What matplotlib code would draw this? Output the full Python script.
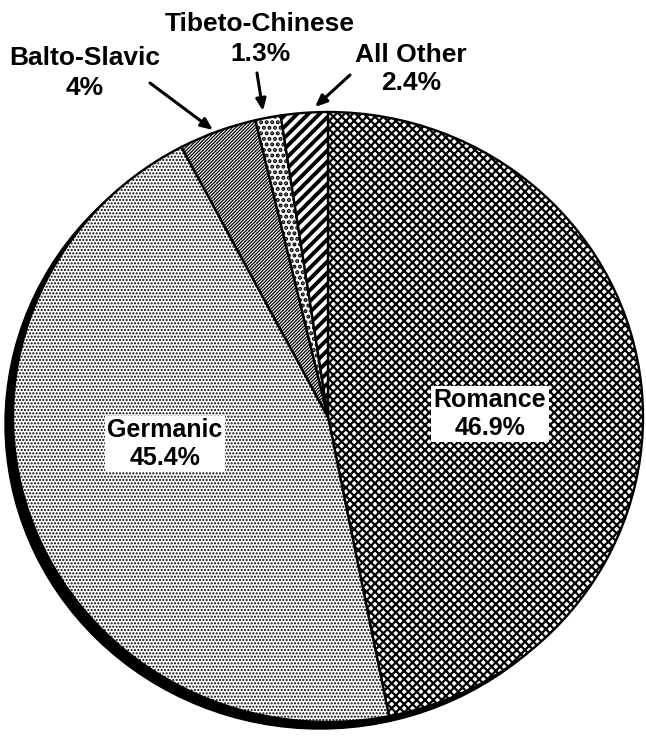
import matplotlib
matplotlib.use("Agg")
import matplotlib.pyplot as plt
from matplotlib.patches import Ellipse

# ---- data ----
categories = ["Romance", "Germanic", "Balto-Slavic", "Tibeto-Chinese", "All Other"]
shares = [46.9, 45.4, 4.0, 1.3, 2.4]
share_labels = ["46.9%", "45.4%", "4%", "1.3%", "2.4%"]

# ---- styles ----
hatches = ["xxxx", ".....", "//////////", "...", "///"]
hatch_lw = [1.6, 1.0, 0.9, 2.0, 2.8]

W, H = 646, 738
fig = plt.figure(figsize=(W / 100, H / 100), dpi=100)
fig.patch.set_facecolor("white")

# pie geometry in pixels (from top-left)
cx, cy, rx, ry = 328, 417, 315, 305
pie_ax = fig.add_axes([(cx - rx) / W, (H - cy - ry) / H, 2 * rx / W, 2 * ry / H])
pie_ax.set_facecolor("none")

# shadow (offset down-left)
shadow = Ellipse((-8 / rx, -7 / ry), 2, 2, facecolor="black", edgecolor="black",
                 zorder=0, clip_on=False)
pie_ax.add_patch(shadow)

wedges, _ = pie_ax.pie(shares, startangle=90, counterclock=False, radius=1,
                       wedgeprops=dict(facecolor="white", edgecolor="black",
                                       linewidth=1.7))
for w, h, lw in zip(wedges, hatches, hatch_lw):
    w.set_hatch(h)
    w.set_zorder(2)
    w.set_clip_on(False)
    if hasattr(w, "set_hatch_linewidth"):
        w.set_hatch_linewidth(lw)
pie_ax.set_xlim(-1, 1)
pie_ax.set_ylim(-1, 1)
pie_ax.set_aspect("auto")
pie_ax.axis("off")

# overlay axes in pixel coordinates for labels and arrows
ov = fig.add_axes([0, 0, 1, 1])
ov.set_xlim(0, W)
ov.set_ylim(H, 0)
ov.axis("off")
ov.patch.set_alpha(0)

font = dict(family=["Liberation Sans", "DejaVu Sans"], fontweight="bold", color="black")

# inner labels with white boxes
box = dict(boxstyle="square,pad=0.1", facecolor="white", edgecolor="none")
ov.text(490, 414, f"{categories[0]}\n{share_labels[0]}", ha="center", va="center",
        fontsize=18, linespacing=1.2, bbox=box, **font)
ov.text(165, 444, f"{categories[1]}\n{share_labels[1]}", ha="center", va="center",
        fontsize=18, linespacing=1.2, bbox=box, **font)

# outer labels
ov.text(85, 73, f"{categories[2]}\n{share_labels[2]}", ha="center", va="center",
        fontsize=19, linespacing=1.3, **font)
ov.text(260, 39, f"{categories[3]}\n{share_labels[3]}", ha="center", va="center",
        fontsize=19, linespacing=1.3, **font)
ov.text(411, 69, f"{categories[4]}\n{share_labels[4]}", ha="center", va="center",
        fontsize=19, linespacing=1.2, **font)

arrow = dict(arrowstyle="-|>,head_length=0.7,head_width=0.3", color="black", lw=2.2,
             shrinkA=0, shrinkB=0)
ov.annotate("", xy=(213, 130), xytext=(150, 83), arrowprops=arrow)
ov.annotate("", xy=(263, 111), xytext=(257, 73), arrowprops=arrow)
ov.annotate("", xy=(315, 107), xytext=(350, 75), arrowprops=arrow)

fig.savefig("out.png", dpi=100, facecolor="white")
